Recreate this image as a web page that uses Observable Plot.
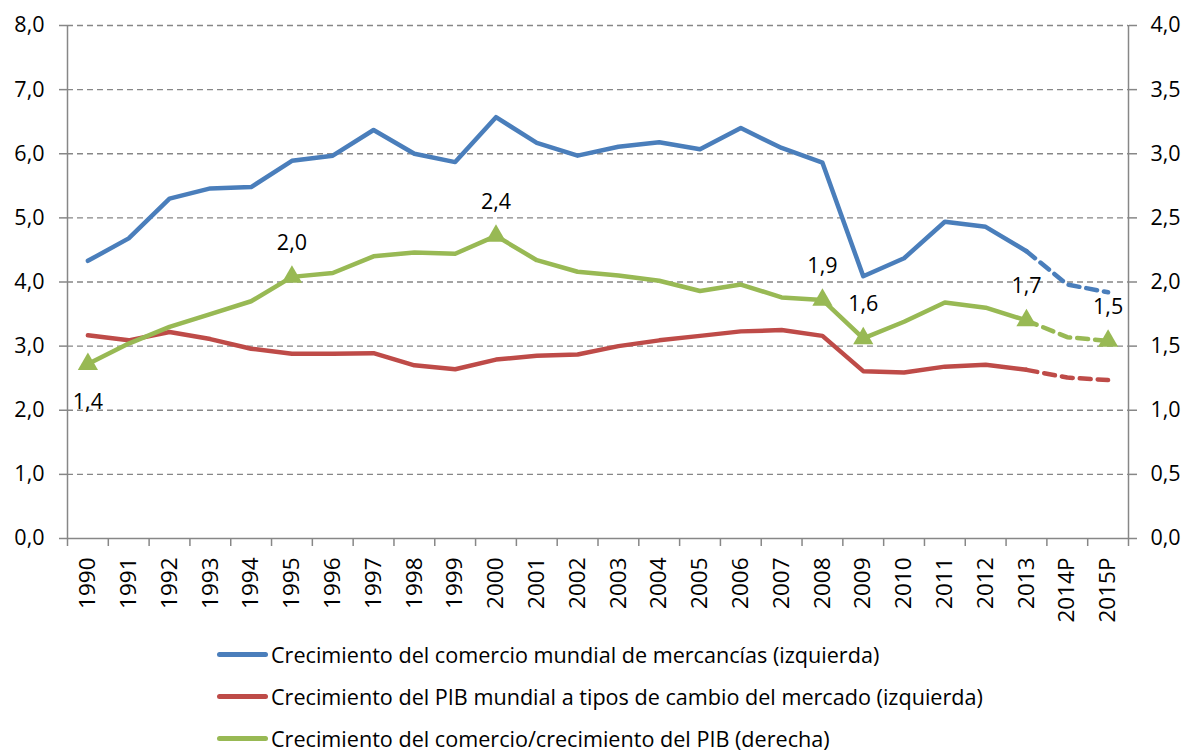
<!DOCTYPE html>
<html>
<head>
<meta charset="utf-8">
<script src="https://cdn.jsdelivr.net/npm/d3@7"></script>
<script src="https://cdn.jsdelivr.net/npm/@observablehq/plot@0.6"></script>
<style>
  html, body { margin: 0; padding: 0; background: #fff; overflow: hidden; }
  #chart svg { display: block; }
  .legend { padding-top: 3px; font-family: "Open Sans", sans-serif; font-size: 21.6px; color: #000; }
  .legend .row { height: 42px; display: flex; align-items: center; }
  .legend .sw { margin-left: 217px; width: 51px; height: 5px; border-radius: 3px; margin-right: 3px; }
</style>
</head>
<body>
<div id="chart"></div>
<div class="legend" id="legend"></div>
<script>
const years = ["1990","1991","1992","1993","1994","1995","1996","1997","1998","1999","2000","2001","2002","2003","2004","2005","2006","2007","2008","2009","2010","2011","2012","2013","2014P","2015P"];
const tradeGrowth = [4.33,4.68,5.30,5.46,5.48,5.89,5.97,6.37,6.00,5.87,6.57,6.17,5.97,6.11,6.18,6.07,6.40,6.09,5.86,4.09,4.37,4.94,4.86,4.48,3.96,3.84];
const gdpGrowth = [3.17,3.09,3.22,3.11,2.96,2.88,2.88,2.89,2.70,2.64,2.79,2.85,2.87,3.00,3.09,3.16,3.23,3.25,3.16,2.61,2.59,2.68,2.71,2.63,2.51,2.47];
const ratio = [1.36,1.52,1.65,1.75,1.85,2.04,2.07,2.20,2.23,2.22,2.36,2.17,2.08,2.05,2.01,1.93,1.98,1.88,1.86,1.56,1.69,1.84,1.80,1.70,1.57,1.54];
const labelYears = ["1990","1995","2000","2008","2009","2013","2015P"];
const labelTexts = ["1,4","2,0","2,4","1,9","1,6","1,7","1,5"];
const labelBelow = ["1990"];
const leftTicks = [0,1,2,3,4,5,6,7,8];
const lastActual = "2013";
const seriesNames = [
  "Crecimiento del comercio mundial de mercancías (izquierda)",
  "Crecimiento del PIB mundial a tipos de cambio del mercado (izquierda)",
  "Crecimiento del comercio/crecimiento del PIB (derecha)"
];
const colors = ["#4A7EBB", "#BE4B48", "#98B954"];

const fmt = v => v.toFixed(1).replace(".", ",");
const cut = years.indexOf(lastActual);
const rows = (vals, k) => vals.map((v, i) => ({x: i + 0.5, y: v * k}));
const series = [rows(tradeGrowth, 1), rows(gdpGrowth, 1), rows(ratio, 2)];

const gray = "#878787";
const font = "'Open Sans', sans-serif";
const lineMarks = [];
series.forEach((s, j) => {
  lineMarks.push(Plot.line(s.slice(0, cut + 1), {x: "x", y: "y", stroke: colors[j], strokeWidth: 4.5, strokeLinejoin: "round"}));
  lineMarks.push(Plot.line(s.slice(cut), {x: "x", y: "y", stroke: colors[j], strokeWidth: 4.5, strokeDasharray: "11,7"}));
});

const labelData = labelYears.map((yr, k) => {
  const i = years.indexOf(yr);
  return {x: i + 0.5, y: ratio[i] * 2, text: labelTexts[k], below: labelBelow.includes(yr)};
});

const chart = Plot.plot({
  width: 1186,
  height: 630,
  marginLeft: 67,
  marginRight: 58,
  marginTop: 25,
  marginBottom: 92,
  style: {fontFamily: font, background: "#fff"},
  x: {type: "linear", domain: [0, years.length]},
  y: {type: "linear", domain: [0, 8]},
  marks: [
    Plot.ruleY(leftTicks.filter(d => d > 0), {stroke: gray, strokeWidth: 1.3, strokeDasharray: "6,4"}),
    Plot.ruleX([0, years.length], {y1: 0, y2: 8, stroke: gray, strokeWidth: 1.5}),
    Plot.ruleY([0], {stroke: gray, strokeWidth: 1.5}),
    Plot.axisY({anchor: "left", ticks: leftTicks, tickSize: 8, tickPadding: 15, tickFormat: fmt, stroke: gray, strokeWidth: 1.5, fill: "#000", fontSize: 21.5, label: null}),
    Plot.axisY({anchor: "right", ticks: leftTicks, tickSize: 8, tickPadding: 14, tickFormat: d => fmt(d / 2), stroke: gray, strokeWidth: 1.5, fill: "#000", fontSize: 21.5, label: null}),
    Plot.axisX({ticks: d3.range(years.length + 1), tickSize: 8, tickFormat: () => "", stroke: gray, strokeWidth: 1.5, label: null}),
    Plot.axisX({ticks: years.map((d, i) => i + 0.5), tickSize: 0, tickPadding: 19, tickRotate: -90, tickFormat: d => years[Math.round(d - 0.5)], fill: "#000", fontSize: 22.5, label: null}),
    ...lineMarks,
    Plot.dot(labelData, {x: "x", y: "y", symbol: "triangle", r: 7.5, fill: colors[2]}),
    Plot.text(labelData.filter(d => !d.below), {x: "x", y: "y", text: "text", dy: -34, fontSize: 21.5, fill: "#000"}),
    Plot.text(labelData.filter(d => d.below), {x: "x", y: "y", text: "text", dy: 38, fontSize: 21.5, fill: "#000"})
  ]
});
document.getElementById("chart").appendChild(chart);

const legend = document.getElementById("legend");
seriesNames.forEach((name, j) => {
  const row = document.createElement("div");
  row.className = "row";
  const sw = document.createElement("span");
  sw.className = "sw";
  sw.style.background = colors[j];
  const t = document.createElement("span");
  t.textContent = name;
  row.appendChild(sw);
  row.appendChild(t);
  legend.appendChild(row);
});
</script>
</body>
</html>
